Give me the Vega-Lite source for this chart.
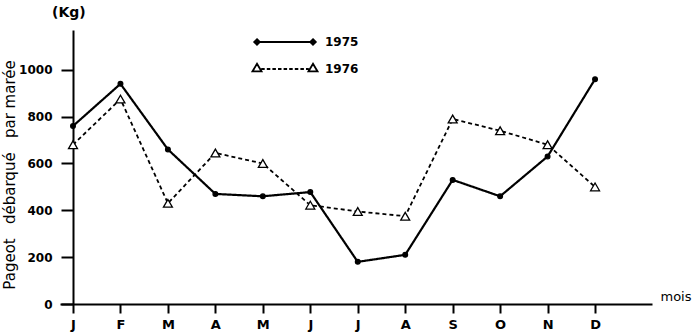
{
  "$schema": "https://vega.github.io/schema/vega-lite/v6.json",
  "width": 592,
  "height": 274,
  "autosize": {"type": "none"},
  "padding": {"left": 60, "top": 30, "right": 48, "bottom": 30},
  "background": "white",
  "config": {"view": {"stroke": null}, "font": "DejaVu Sans"},
  "title": {"text": "(Kg)", "anchor": "start", "frame": "group", "dx": -8, "offset": 10, "fontSize": 14, "fontWeight": "bold", "font": "DejaVu Sans", "color": "black"},
  "data": {
    "values": [
      {"m": 0, "year": "1975", "kg": 760}, {"m": 1, "year": "1975", "kg": 940}, {"m": 2, "year": "1975", "kg": 660},
      {"m": 3, "year": "1975", "kg": 470}, {"m": 4, "year": "1975", "kg": 460}, {"m": 5, "year": "1975", "kg": 478},
      {"m": 6, "year": "1975", "kg": 180}, {"m": 7, "year": "1975", "kg": 210}, {"m": 8, "year": "1975", "kg": 530},
      {"m": 9, "year": "1975", "kg": 460}, {"m": 10, "year": "1975", "kg": 630}, {"m": 11, "year": "1975", "kg": 960},
      {"m": 0, "year": "1976", "kg": 680}, {"m": 1, "year": "1976", "kg": 875}, {"m": 2, "year": "1976", "kg": 430},
      {"m": 3, "year": "1976", "kg": 645}, {"m": 4, "year": "1976", "kg": 600}, {"m": 5, "year": "1976", "kg": 422},
      {"m": 6, "year": "1976", "kg": 395}, {"m": 7, "year": "1976", "kg": 375}, {"m": 8, "year": "1976", "kg": 790},
      {"m": 9, "year": "1976", "kg": 740}, {"m": 10, "year": "1976", "kg": 680}, {"m": 11, "year": "1976", "kg": 500}
    ]
  },
  "encoding": {
    "x": {
      "field": "m", "type": "quantitative",
      "scale": {"domain": [-0.274, 12.2], "nice": false, "zero": false},
      "axis": {
        "values": [0, 1, 2, 3, 4, 5, 6, 7, 8, 9, 10, 11],
        "labelExpr": "['J','F','M','A','M','J','J','A','S','O','N','D'][datum.value]",
        "grid": false, "domainColor": "black", "domainWidth": 2, "tickColor": "black", "tickWidth": 2, "tickSize": 9,
        "labelFont": "DejaVu Sans", "labelFontSize": 13, "labelFontWeight": "bold", "labelColor": "black", "labelPadding": 5,
        "title": "mois", "titleX": 600, "titleY": -4, "titleAlign": "left", "titleBaseline": "alphabetic", "titleAngle": 0,
        "titleFont": "DejaVu Sans", "titleFontSize": 13, "titleFontWeight": "normal", "titleColor": "black"
      }
    },
    "y": {
      "field": "kg", "type": "quantitative",
      "scale": {"domain": [0, 1170], "nice": false},
      "axis": {
        "values": [0, 200, 400, 600, 800, 1000], "offset": -13, "format": "d",
        "grid": false, "domainColor": "black", "domainWidth": 2, "tickColor": "black", "tickWidth": 2, "tickSize": 12,
        "labelFont": "DejaVu Sans", "labelFontSize": 12, "labelFontWeight": "bold", "labelColor": "black", "labelPadding": 9,
        "title": "Pageot\u00a0\u00a0\u00a0débarqué\u00a0\u00a0\u00a0par marée", "titleX": -64, "titleY": 144.5, "titleAngle": -90, "titleAlign": "center", "titleBaseline": "middle",
        "titleFont": "DejaVu Sans", "titleFontSize": 15, "titleFontWeight": "normal", "titleColor": "black"
      }
    }
  },
  "layer": [
    {
      "mark": {"type": "line", "color": "black"},
      "encoding": {
        "detail": {"field": "year"},
        "strokeDash": {"condition": {"test": "datum.year === '1975'", "value": [1, 0]}, "value": [4, 3]},
        "strokeWidth": {"condition": {"test": "datum.year === '1975'", "value": 2.2}, "value": 1.8}
      }
    },
    {
      "mark": {"type": "point", "filled": true, "stroke": "black", "strokeWidth": 1.3, "opacity": 1},
      "encoding": {
        "shape": {"condition": {"test": "datum.year === '1975'", "value": "circle"}, "value": "triangle-up"},
        "fill": {"condition": {"test": "datum.year === '1975'", "value": "black"}, "value": "white"},
        "size": {"condition": {"test": "datum.year === '1975'", "value": 22}, "value": 80}
      }
    },
    {
      "transform": [{"filter": "false"}],
      "mark": {"type": "point", "filled": true, "strokeWidth": 1.8, "opacity": 1},
      "encoding": {
        "shape": {
          "field": "year", "type": "nominal",
          "scale": {"domain": ["1975", "1976"], "range": [
            "M-4,0H4M-4,-0.4L-3.6,0L-4,0.4L-4.4,0ZM4,-0.4L4.4,0L4,0.4L3.6,0Z",
            "M-4,-0.75L-3.35,0.35L-4.65,0.35ZM4,-0.75L4.65,0.35L3.35,0.35ZM-3.4,0H-2.9M-2.6,0H-2.1M-1.8,0H-1.3M-1,0H-0.5M-0.2,0H0.3M0.6,0H1.1M1.4,0H1.9M2.2,0H2.7M3,0H3.4"
          ]},
          "legend": {
            "orient": "none", "legendX": 217, "legendY": 4, "title": null, "padding": 0,
            "symbolSize": 196, "symbolStrokeWidth": 1.8, "symbolOpacity": 1,
            "labelFont": "DejaVu Sans", "labelFontSize": 12, "labelFontWeight": "bold", "labelColor": "black",
            "labelOffset": 32, "rowPadding": 11
          }
        },
        "fill": {
          "field": "year", "type": "nominal",
          "scale": {"domain": ["1975", "1976"], "range": ["black", "white"]},
          "legend": {
            "orient": "none", "legendX": 217, "legendY": 4, "title": null, "padding": 0,
            "symbolSize": 196, "symbolStrokeWidth": 1.8, "symbolOpacity": 1,
            "labelFont": "DejaVu Sans", "labelFontSize": 12, "labelFontWeight": "bold", "labelColor": "black",
            "labelOffset": 32, "rowPadding": 11
          }
        },
        "stroke": {
          "field": "year", "type": "nominal",
          "scale": {"domain": ["1975", "1976"], "range": ["black", "black"]},
          "legend": {
            "orient": "none", "legendX": 217, "legendY": 4, "title": null, "padding": 0,
            "symbolSize": 196, "symbolStrokeWidth": 1.8, "symbolOpacity": 1,
            "labelFont": "DejaVu Sans", "labelFontSize": 12, "labelFontWeight": "bold", "labelColor": "black",
            "labelOffset": 32, "rowPadding": 11
          }
        }
      }
    },
    {
      "data": {"values": [{}]},
      "mark": {"type": "point", "shape": "M0,-1L0.35,1L-0.35,1Z", "size": 225, "filled": true, "color": "black", "opacity": 1},
      "encoding": {"x": {"datum": 0}, "y": {"datum": 1144}}
    },
    {
      "data": {"values": [{}]},
      "mark": {"type": "point", "shape": "M1,0L-1,-0.35L-1,0.35Z", "size": 225, "filled": true, "color": "black", "opacity": 1},
      "encoding": {"x": {"datum": 12.05}, "y": {"datum": 0}}
    }
  ]
}
